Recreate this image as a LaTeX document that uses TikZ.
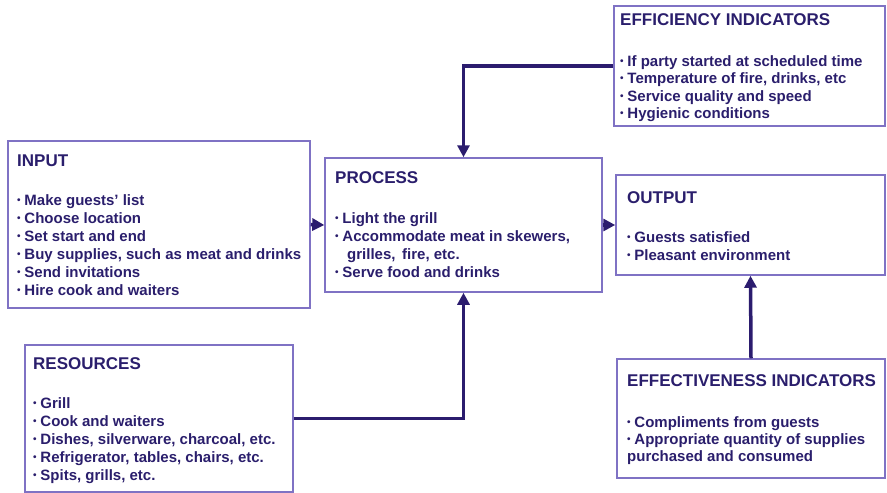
\documentclass[tikz,border=0pt]{standalone}
\usepackage{fontspec}
\setmainfont{Liberation Sans}
\usetikzlibrary{arrows.meta}
\definecolor{ink}{HTML}{2A1E6C}
\definecolor{frame}{HTML}{7F72C4}
\definecolor{wire}{HTML}{2B1C6E}
\newcommand\bul{{\fontsize{10}{10}\selectfont\raisebox{0.2em}{•}}\hspace{0.25em}}
\tikzset{
  box/.style={draw=frame, line width=1.5pt, rectangle, inner sep=0pt},
  head/.style={anchor=base west, inner sep=0pt, text=ink, font=\fontsize{17}{17}\selectfont\bfseries},
  item/.style={anchor=base west, inner sep=0pt, text=ink, font=\fontsize{15}{15}\selectfont\bfseries},
  flow/.style={draw=wire, line width=3.5pt, -{Triangle[length=12pt,width=12pt]}},
}
\begin{document}
\begin{tikzpicture}[x=1pt,y=-1pt]
\useasboundingbox (0,0) rectangle (887,493);

% frames
\node[box, minimum width=302pt, minimum height=167pt] (input) at (159,224.5) {};
\node[box, minimum width=277pt, minimum height=134pt] (proc) at (463.5,225) {};
\node[box, minimum width=271pt, minimum height=120pt] (effi) at (749.5,66) {};
\node[box, minimum width=269pt, minimum height=100pt] (out) at (750.5,225) {};
\node[box, minimum width=268pt, minimum height=147pt] (res) at (159,418.5) {};
\node[box, minimum width=268pt, minimum height=119pt] (effe) at (751,418.5) {};

% INPUT
\node[head] (inT) at (17,166) {INPUT};
\foreach \t [count=\i] in {Make guests’ list, Choose location, Set start and end,
    {Buy supplies, such as meat and drinks}, Send invitations, Hire cook and waiters}
  \node[item, name=in\i] at (17,205+18*\i-18) {\bul\t};

% PROCESS
\node[head] (prT) at (335,183) {PROCESS};
\node[item] (pr1) at (335,223) {\bul Light the grill};
\node[item] (pr2) at (335,241) {\bul Accommodate meat in skewers,};
\node[item] (pr3) at (347,259) {grilles,\, fire, etc.};
\node[item] (pr4) at (335,277) {\bul Serve food and drinks};

% EFFICIENCY INDICATORS
\node[head] (efT) at (620,25) {EFFICIENCY INDICATORS};
\foreach \t [count=\i] in {If party started at scheduled time, {Temperature of fire, drinks, etc},
    Service quality and speed, Hygienic conditions}
  \node[item, name=ef\i] at (620,66+17.5*\i-17.5) {\bul\t};

% OUTPUT
\node[head] (ouT) at (627,203) {OUTPUT};
\node[item] (ou1) at (627,242) {\bul Guests satisfied};
\node[item] (ou2) at (627,260) {\bul Pleasant environment};

% RESOURCES
\node[head] (reT) at (33,369) {RESOURCES};
\foreach \t [count=\i] in {Grill, Cook and waiters, {Dishes, silverware, charcoal, etc.},
    {Refrigerator, tables, chairs, etc.}, {Spits, grills, etc.}}
  \node[item, name=re\i] at (33,408+18*\i-18) {\bul\t};

% EFFECTIVENESS INDICATORS
\node[head] (etT) at (627,386) {EFFECTIVENESS INDICATORS};
\node[item] (et1) at (627,427) {\bul Compliments from guests};
\node[item] (et2) at (627,444) {\bul Appropriate quantity of supplies};
\node[item] (et3) at (627,461) {purchased and consumed};

% connectors
\draw[flow] (input.east) -- (proc.west);
\draw[flow] (proc.east) -- (out.west);
\draw[flow] (effi.west) -| (proc.north);
\draw[flow] (res.east) -| (proc.south);
\draw[flow] (effe.north) -- (out.south);
\end{tikzpicture}
\end{document}
